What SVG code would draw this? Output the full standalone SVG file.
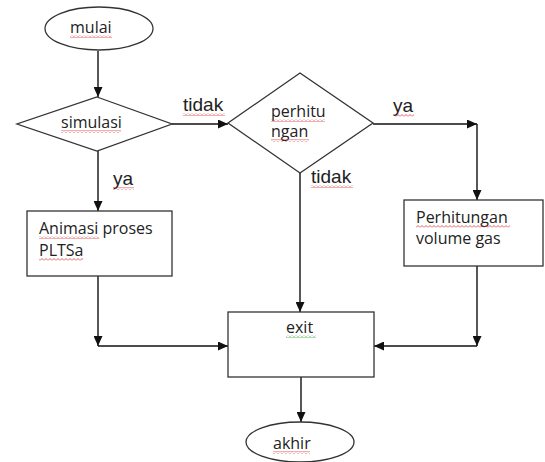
<svg xmlns="http://www.w3.org/2000/svg" width="545" height="462" viewBox="0 0 545 462">
<style>
.shape{fill:#fff;stroke:#333;stroke-width:1.3}
.t{font-family:"Open Sans","Liberation Sans",sans-serif;font-size:16px;fill:#222}
.lbl{font-family:"Liberation Sans",Arial,sans-serif;font-size:19px;fill:#222}
.c{fill:none;stroke:#111;stroke-width:1.4}
.sq{fill:url(#red)}
.sqg{fill:url(#green)}
</style>
<defs>
<marker id="ah" markerUnits="userSpaceOnUse" markerWidth="11" markerHeight="9" refX="10" refY="4.5" orient="auto">
<path d="M0,0 L10,4.5 L0,9 z" fill="#111"/>
</marker>
<pattern id="red" patternUnits="userSpaceOnUse" width="4" height="3">
<path d="M0,2.5 L2,0.5 L4,2.5" fill="none" stroke="#d33" stroke-width="0.8"/>
</pattern>
<pattern id="green" patternUnits="userSpaceOnUse" width="4" height="3">
<path d="M0,2.5 L2,0.5 L4,2.5" fill="none" stroke="#3a3" stroke-width="0.8"/>
</pattern>
</defs>
<rect width="545" height="462" fill="#fff"/>
<g id="connectors">
<line class="c" x1="98" y1="51" x2="98" y2="97" marker-end="url(#ah)"/>
<line class="c" x1="172" y1="124" x2="228" y2="124" marker-end="url(#ah)"/>
<line class="c" x1="98" y1="151" x2="98" y2="211" marker-end="url(#ah)"/>
<line class="c" x1="373" y1="124" x2="477" y2="124" marker-end="url(#ah)"/>
<line class="c" x1="477" y1="124" x2="477" y2="200" marker-end="url(#ah)"/>
<line class="c" x1="300" y1="173" x2="300" y2="312" marker-end="url(#ah)"/>
<line class="c" x1="98" y1="276" x2="98" y2="346" marker-end="url(#ah)"/>
<line class="c" x1="98" y1="346" x2="228" y2="346" marker-end="url(#ah)"/>
<line class="c" x1="477" y1="266" x2="477" y2="346" marker-end="url(#ah)"/>
<line class="c" x1="477" y1="346" x2="374" y2="346" marker-end="url(#ah)"/>
<line class="c" x1="301" y1="377" x2="301" y2="422" marker-end="url(#ah)"/>
<text class="lbl" x="183" y="111">tidak</text>
<rect class="sq" x="183" y="113" width="42" height="3"/>
<text class="lbl" x="113" y="185">ya</text>
<rect class="sq" x="113" y="187" width="21" height="3"/>
<text class="lbl" x="393" y="112">ya</text>
<rect class="sq" x="393" y="114" width="21" height="3"/>
<text class="lbl" x="311" y="183">tidak</text>
<rect class="sq" x="311" y="185" width="42" height="3"/>
</g>
<g id="mulai">
<ellipse class="shape" cx="99" cy="28.5" rx="54" ry="21.5"/>
<text class="t" x="70" y="33">mulai</text>
<rect class="sq" x="70" y="35" width="42" height="3"/>
</g>
<g id="simulasi">
<polygon class="shape" points="97,97 172,124 97,151 17,124"/>
<text class="t" x="61" y="128">simulasi</text>
<rect class="sq" x="61" y="130" width="60" height="3"/>
</g>
<g id="perhitungan">
<polygon class="shape" points="300,73 373,123 300,173 228,123"/>
<text class="t" x="271" y="117">perhitu</text>
<rect class="sq" x="271" y="119" width="54" height="3"/>
<text class="t" x="271" y="137">ngan</text>
<rect class="sq" x="271" y="139" width="38" height="3"/>
</g>
<g id="animasi">
<rect class="shape" x="27" y="211" width="145" height="65"/>
<text class="t" x="39" y="234">Animasi proses</text>
<rect class="sq" x="39" y="236" width="60" height="3"/>
<text class="t" x="39" y="256">PLTSa</text>
<rect class="sq" x="39" y="258" width="44" height="3"/>
</g>
<g id="volume">
<rect class="shape" x="404" y="200" width="139" height="66"/>
<text class="t" x="416" y="223">Perhitungan</text>
<rect class="sq" x="416" y="225" width="94" height="3"/>
<text class="t" x="416" y="244">volume gas</text>
</g>
<g id="exit">
<rect class="shape" x="228" y="312" width="146" height="65"/>
<text class="t" x="286" y="333">exit</text>
<rect class="sqg" x="286" y="335" width="30" height="3"/>
</g>
<g id="akhir">
<ellipse class="shape" cx="300" cy="442" rx="54" ry="20"/>
<text class="t" x="273" y="449">akhir</text>
<rect class="sq" x="273" y="451" width="37" height="3"/>
</g>
</svg>
